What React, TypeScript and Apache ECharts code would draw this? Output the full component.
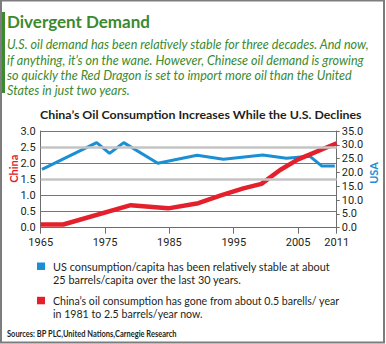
import React, { useEffect, useRef } from 'react';
import * as echarts from 'echarts';

const usYears = [1965.2, 1973.7, 1975.7, 1977.9, 1983.2, 1989.3, 1993.4, 1999.5, 2003.2, 2006.8, 2008.7, 2010.7];
const usValues = [21.1, 30.8, 26.9, 30.8, 23.3, 26.2, 24.8, 26.3, 25.1, 25.9, 22.3, 22.3];
const chinaYears = [1965, 1968.5, 1979, 1984.8, 1989.5, 1993, 1996.5, 1999.3, 2002.2, 2005, 2011];
const chinaValues = [0.1, 0.1, 0.7, 0.6, 0.76, 1.0, 1.22, 1.36, 1.79, 2.12, 2.62];
const xTickYears = [1965, 1975, 1985, 1995, 2005, 2011];
const lightGridValues = [1.5, 2.5];

const title = 'Divergent Demand';
const subtitleLines = [
  'U.S. oil demand has been relatively stable for three decades. And now,',
  'if anything, it\u2019s on the wane. However, Chinese oil demand is growing',
  'so quickly the Red Dragon is set to import more oil than the United',
  'States in just two years.',
];
const chartTitle = 'China\u2019s Oil Consumption Increases While the U.S. Declines';
const leftAxisName = 'China';
const rightAxisName = 'USA';
const legendUS = ['US consumption/capita has been relatively stable at about', '25 barrels/capita over the last 30 years.'];
const legendChina = ['China\u2019s oil consumption has gone from about 0.5 barells/ year', 'in 1981 to 2.5 barrels/year now.'];
const sources = 'Sources: BP PLC,United Nations,Carnegie Research';

const GREEN = '#3b8a2f';
const BLUE = '#1b8fd3';
const RED = '#e3202b';
const DARK = '#231f20';
const FONT = 'Lato, sans-serif';

function measure(text: string, font: string): number {
  const ctx = document.createElement('canvas').getContext('2d');
  if (!ctx) return text.length * 6;
  ctx.font = font;
  return ctx.measureText(text).width;
}

export default function App() {
  const ref = useRef<HTMLDivElement>(null);
  useEffect(() => {
    if (!ref.current) return;
    const chart = echarts.init(ref.current, undefined, { renderer: 'svg' });

    const titleFont = 'bold 16.5px ' + FONT;
    const titleScale = 143 / measure(title, titleFont);
    const subFont = 'italic 14px ' + FONT;
    const subScale = 363 / measure(subtitleLines[0], subFont);
    const ctFont = 'bold 12px ' + FONT;
    const ctScale = 322 / measure(chartTitle, ctFont);
    const legFont = '11.5px ' + FONT;
    const usScale = 277 / measure(legendUS[0], legFont);
    const cnScale = 287 / measure(legendChina[0], legFont);
    const srcFont = 'bold 8.5px ' + FONT;
    const srcScale = 170 / measure(sources, srcFont);

    const graphics: any[] = [
      { type: 'rect', shape: { x: 1, y: 0.5, width: 383, height: 342 }, style: { fill: 'none', stroke: '#7d7d7d', lineWidth: 2 }, z: 10 },
      { type: 'rect', shape: { x: 2, y: 12, width: 3, height: 81 }, style: { fill: GREEN } },
      { type: 'text', x: 7, y: 21.5, scaleX: titleScale, style: { text: title, fill: GREEN, font: titleFont, verticalAlign: 'middle' } },
      ...subtitleLines.map((t, i) => ({
        type: 'text', x: 7, y: 44 + i * 15.33, scaleX: subScale,
        style: { text: t, fill: GREEN, font: subFont, verticalAlign: 'middle' },
      })),
      { type: 'text', x: 200.8, y: 114.5, scaleX: ctScale, style: { text: chartTitle, fill: DARK, align: 'center', verticalAlign: 'middle', font: ctFont } },
      { type: 'text', x: 13.3, y: 168.7, rotation: Math.PI / 2, style: { text: leftAxisName, fill: RED, align: 'center', verticalAlign: 'middle', font: 'bold 11px ' + FONT } },
      { type: 'text', x: 373.5, y: 173, rotation: Math.PI / 2, style: { text: rightAxisName, fill: BLUE, align: 'center', verticalAlign: 'middle', font: 'bold 11px ' + FONT } },
      { type: 'rect', shape: { x: 37, y: 262.5, width: 8, height: 7.5 }, style: { fill: BLUE } },
      ...legendUS.map((t, i) => ({ type: 'text', x: 53, y: 266.3 + i * 13.3, scaleX: usScale, style: { text: t, fill: DARK, font: legFont, verticalAlign: 'middle' } })),
      { type: 'rect', shape: { x: 37, y: 296.8, width: 8, height: 7.5 }, style: { fill: RED } },
      ...legendChina.map((t, i) => ({ type: 'text', x: 53, y: 300.5 + i * 12.5, scaleX: cnScale, style: { text: t, fill: DARK, font: legFont, verticalAlign: 'middle' } })),
      { type: 'text', x: 7, y: 333.5, scaleX: srcScale, style: { text: sources, fill: DARK, font: srcFont, verticalAlign: 'middle' } },
    ];
    chart.setOption({
      animation: false,
      backgroundColor: '#ffffff',
      grid: { left: 40.7, right: 49.3, top: 131, bottom: 116.3 },
      xAxis: {
        type: 'value', min: 1965, max: 2011, interval: 10,
        axisLine: { lineStyle: { color: '#6d6d6d', width: 1 } },
        axisTick: { show: true, length: 6, lineStyle: { color: '#6d6d6d' }, customValues: xTickYears },
        axisLabel: { color: DARK, fontSize: 11, fontFamily: 'Roboto', margin: 9, customValues: xTickYears, formatter: (v: number) => String(Math.round(v)) },
        splitLine: { show: false },
      },
      yAxis: [
        {
          type: 'value', min: 0, max: 3, interval: 0.5, position: 'left',
          axisLine: { show: true, lineStyle: { color: '#6d6d6d' } },
          axisTick: { show: false },
          axisLabel: { color: DARK, fontSize: 11, fontFamily: 'Roboto', margin: 5, formatter: (v: number) => v.toFixed(1) },
          splitLine: { show: true, lineStyle: { color: ['#777', '#777', '#777', 'transparent', '#777', 'transparent', '#777'], width: 1 } },
        },
        {
          type: 'value', min: 0, max: 35, interval: 5, position: 'right',
          axisLine: { show: true, lineStyle: { color: '#6d6d6d' } },
          axisTick: { show: true, length: 3, lineStyle: { color: '#6d6d6d' } },
          axisLabel: { color: DARK, fontSize: 11, fontFamily: 'Roboto', margin: 5, formatter: (v: number) => v.toFixed(1) },
          splitLine: { show: false },
        },
      ],
      series: [
        {
          type: 'line', yAxisIndex: 0, data: [], z: 1, silent: true,
          markLine: {
            silent: true, symbol: 'none', label: { show: false },
            lineStyle: { color: '#c4c4c4', width: 2.5, type: 'solid' },
            data: lightGridValues.map((v) => ({ yAxis: v })),
          },
        },
        {
          name: 'USA', type: 'line', yAxisIndex: 1, z: 3, symbol: 'none',
          lineStyle: { color: BLUE, width: 3 },
          data: usYears.map((y, i) => [y, usValues[i]]),
        },
        {
          name: 'China', type: 'line', yAxisIndex: 0, z: 4, symbol: 'none',
          lineStyle: { color: RED, width: 4.5 },
          data: chinaYears.map((y, i) => [y, chinaValues[i]]),
        },
      ],
      graphic: graphics,
    });
    return () => chart.dispose();
  }, []);
  return <div ref={ref} style={{ position: 'fixed', left: 0, top: 0, width: 386, height: 344 }} />;
}
